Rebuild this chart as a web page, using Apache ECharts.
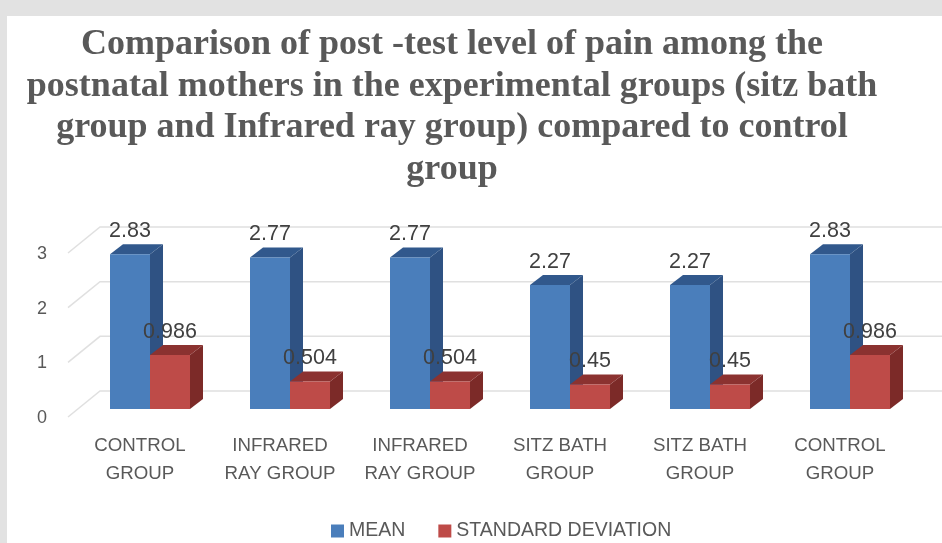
<!DOCTYPE html>
<html>
<head>
<meta charset="utf-8">
<script src="https://cdn.jsdelivr.net/npm/echarts@6/dist/echarts.min.js"></script>
<style>
  html, body { margin: 0; padding: 0; background: #e2e2e2; }
  /* the reference is a soft, upscaled image */
  #chart { width: 942px; height: 543px; filter: blur(0.6px); }
</style>
</head>
<body>
<div id="chart"></div>
<script>
const titleText = 'Comparison of post -test level of pain among the\npostnatal mothers in the experimental groups (sitz bath\ngroup and Infrared ray group) compared to control\ngroup';
const categories = ['CONTROL\nGROUP', 'INFRARED\nRAY GROUP', 'INFRARED\nRAY GROUP', 'SITZ BATH\nGROUP', 'SITZ BATH\nGROUP', 'CONTROL\nGROUP'];
const meanValues = [2.83, 2.77, 2.77, 2.27, 2.27, 2.83];
const sdValues = [0.986, 0.504, 0.504, 0.45, 0.45, 0.986];
const wallTicks = [0, 1, 2, 3];

const labelFont = '"Liberation Sans", sans-serif';
const depthX = 13;
const depthY = -10;
const barWidth = 40;

// one 3d looking box: front, side and top faces
const boxRender = (side, front, dark, top) => (params, api) => {
  const base = api.coord([api.value(0), 0]);
  const head = api.coord([api.value(0), api.value(1)]);
  const x0 = side === 0 ? base[0] - barWidth : base[0];
  const x1 = x0 + barWidth;
  return {
    type: 'group',
    children: [
      {
        type: 'polygon',
        shape: { points: [[x1, base[1]], [x1 + depthX, base[1] + depthY], [x1 + depthX, head[1] + depthY], [x1, head[1]]] },
        style: { fill: dark }
      },
      {
        type: 'polygon',
        shape: { points: [[x0, head[1]], [x0 + depthX, head[1] + depthY], [x1 + depthX, head[1] + depthY], [x1, head[1]]] },
        style: { fill: top }
      },
      {
        type: 'rect',
        shape: { x: x0, y: head[1], width: barWidth, height: base[1] - head[1] },
        style: { fill: front }
      },
      {
        type: 'text',
        style: {
          x: (x0 + x1) / 2,
          y: head[1] - 23,
          text: String(api.value(1)),
          fill: '#404040',
          font: '21.5px "Liberation Sans", sans-serif',
          align: 'center',
          verticalAlign: 'middle'
        }
      }
    ]
  };
};

// back wall gridline plus the diagonal running down to the front edge
const wallRender = (params, api) => {
  const p = api.coord([0, api.value(1)]);
  const left = params.coordSys.x;
  const right = left + params.coordSys.width;
  return {
    type: 'polyline',
    shape: { points: [[left - 12, p[1] + 8], [left + 20, p[1] - 18], [right + 22, p[1] - 18]] },
    style: { stroke: '#e0e0e0', lineWidth: 1.5, fill: 'none' }
  };
};

const myChart = echarts.init(document.getElementById('chart'));
myChart.setOption({
  backgroundColor: '#e2e2e2',
  animation: false,
  graphic: [
    {
      type: 'rect',
      z: -1,
      shape: { x: 7, y: 16, width: 935, height: 527 },
      style: { fill: '#ffffff' }
    }
  ],
  title: {
    text: titleText,
    left: 447,
    top: 19,
    textAlign: 'center',
    textStyle: {
      fontFamily: '"Liberation Serif", serif',
      fontWeight: 'bold',
      fontSize: 36,
      lineHeight: 41.5,
      color: '#595959'
    }
  },
  legend: {
    data: ['MEAN', 'STANDARD DEVIATION'],
    left: 331,
    top: 521,
    padding: 0,
    icon: 'rect',
    itemWidth: 13,
    itemHeight: 13,
    itemGap: 33,
    textStyle: { fontFamily: labelFont, fontSize: 19.5, color: '#595959' }
  },
  grid: { left: 80, top: 245, width: 840, height: 164 },
  xAxis: {
    type: 'category',
    data: categories,
    axisLine: { show: false },
    axisTick: { show: false },
    axisLabel: {
      interval: 0,
      margin: 23,
      fontFamily: labelFont,
      fontSize: 18.7,
      lineHeight: 28,
      color: '#595959',
      padding: [0, 20, 0, 0]
    }
  },
  yAxis: {
    type: 'value',
    min: 0,
    max: 3,
    interval: 1,
    axisLine: { show: false },
    axisTick: { show: false },
    splitLine: { show: false },
    axisLabel: {
      margin: 33,
      fontFamily: labelFont,
      fontSize: 18,
      color: '#595959',
      verticalAlign: 'top'
    }
  },
  series: [
    {
      name: 'wall',
      type: 'custom',
      renderItem: wallRender,
      clip: false,
      silent: true,
      data: wallTicks.map((v) => [0, v])
    },
    {
      name: 'MEAN',
      type: 'custom',
      renderItem: boxRender(0, '#4a7ebb', '#2f5283', '#31588c'),
      itemStyle: { color: '#4a7ebb' },
      clip: false,
      data: meanValues.map((v, i) => [i, v])
    },
    {
      name: 'STANDARD DEVIATION',
      type: 'custom',
      renderItem: boxRender(1, '#be4b48', '#7c2a28', '#8b3230'),
      itemStyle: { color: '#be4b48' },
      clip: false,
      data: sdValues.map((v, i) => [i, v])
    }
  ]
});
</script>
</body>
</html>
